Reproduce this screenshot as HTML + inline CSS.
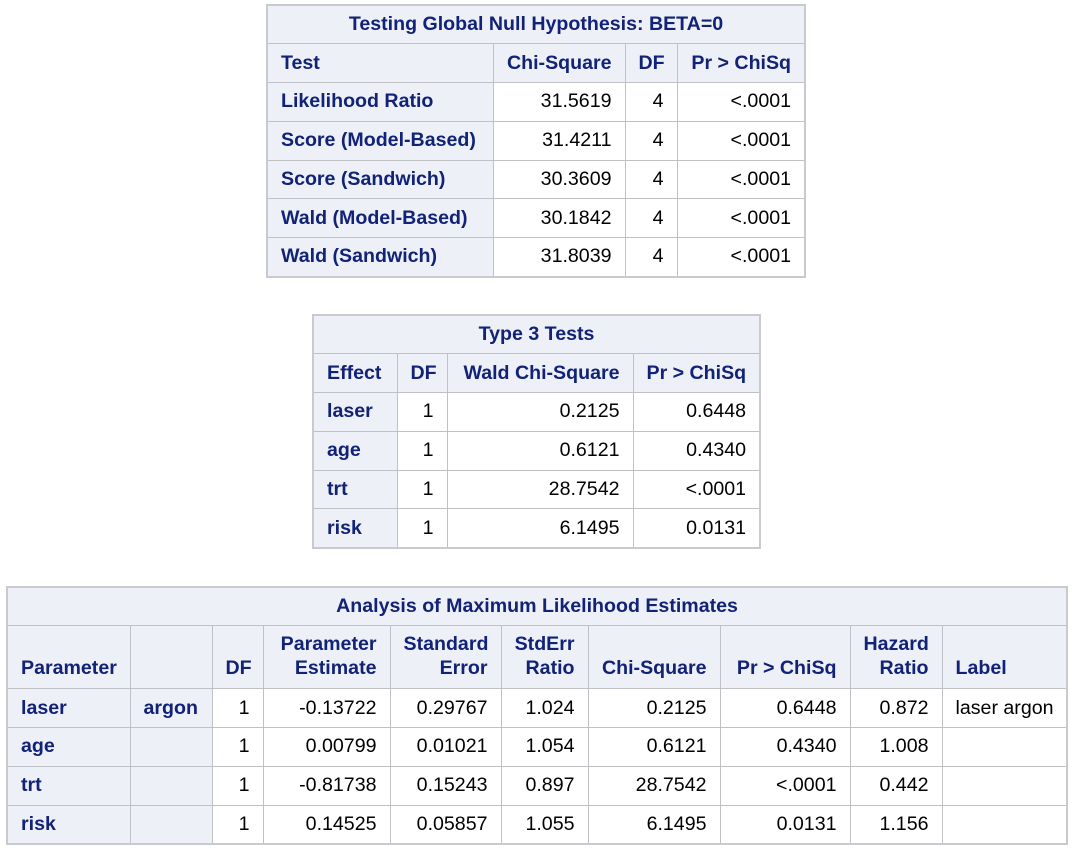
<!DOCTYPE html>
<html><head><meta charset="utf-8">
<style>
html,body{margin:0;padding:0;background:#fff;width:1072px;height:848px;overflow:hidden}
table{position:absolute;border-collapse:collapse;table-layout:fixed;font-family:"Liberation Sans",Arial,sans-serif;font-size:19.6px;border:2px solid #c8cacd}
td,th{border:1px solid #bfc1c4;padding:0 13px;white-space:nowrap;overflow:hidden}
th{background:#edf0f7;color:#112277;font-weight:bold;text-align:left}
th.r{text-align:right}
th.c{text-align:center}
td{color:#000;text-align:right;background:#fff}
td.l{text-align:left}
tr{height:38.8px}
</style></head><body>

<table style="left:266px;top:4px;width:538px">
<colgroup><col style="width:226px"><col style="width:132px"><col style="width:52px"><col style="width:128px"></colgroup>
<tr><th colspan="4" class="c" style="height:36px">Testing Global Null Hypothesis: BETA=0</th></tr>
<tr><th>Test</th><th class="r">Chi-Square</th><th class="r">DF</th><th class="r">Pr &gt; ChiSq</th></tr>
<tr><th>Likelihood Ratio</th><td>31.5619</td><td>4</td><td>&lt;.0001</td></tr>
<tr><th>Score (Model-Based)</th><td>31.4211</td><td>4</td><td>&lt;.0001</td></tr>
<tr><th>Score (Sandwich)</th><td>30.3609</td><td>4</td><td>&lt;.0001</td></tr>
<tr><th>Wald (Model-Based)</th><td>30.1842</td><td>4</td><td>&lt;.0001</td></tr>
<tr><th>Wald (Sandwich)</th><td>31.8039</td><td>4</td><td>&lt;.0001</td></tr>
</table>

<table style="left:312px;top:314px;width:447px">
<colgroup><col style="width:84px"><col style="width:50px"><col style="width:186px"><col style="width:127px"></colgroup>
<tr><th colspan="4" class="c" style="height:36px">Type 3 Tests</th></tr>
<tr><th>Effect</th><th class="r">DF</th><th class="r">Wald Chi-Square</th><th class="r">Pr &gt; ChiSq</th></tr>
<tr><th>laser</th><td>1</td><td>0.2125</td><td>0.6448</td></tr>
<tr><th>age</th><td>1</td><td>0.6121</td><td>0.4340</td></tr>
<tr><th>trt</th><td>1</td><td>28.7542</td><td>&lt;.0001</td></tr>
<tr><th>risk</th><td>1</td><td>6.1495</td><td>0.0131</td></tr>
</table>

<table style="left:6px;top:586px;width:1060px">
<colgroup><col style="width:123px"><col style="width:82px"><col style="width:51px"><col style="width:127px"><col style="width:111px"><col style="width:87px"><col style="width:132px"><col style="width:130px"><col style="width:92px"><col style="width:125px"></colgroup>
<tr><th colspan="10" class="c" style="height:36px">Analysis of Maximum Likelihood Estimates</th></tr>
<tr style="height:63px"><th style="vertical-align:bottom;padding-bottom:8px">Parameter</th><th></th><th class="r" style="vertical-align:bottom;padding-bottom:8px">DF</th><th class="r" style="vertical-align:bottom;padding-bottom:8px;line-height:24px">Parameter<br>Estimate</th><th class="r" style="vertical-align:bottom;padding-bottom:8px;line-height:24px">Standard<br>Error</th><th class="r" style="vertical-align:bottom;padding-bottom:8px;line-height:24px">StdErr<br>Ratio</th><th class="r" style="vertical-align:bottom;padding-bottom:8px">Chi-Square</th><th class="r" style="vertical-align:bottom;padding-bottom:8px">Pr &gt; ChiSq</th><th class="r" style="vertical-align:bottom;padding-bottom:8px;line-height:24px">Hazard<br>Ratio</th><th style="vertical-align:bottom;padding-bottom:8px">Label</th></tr>
<tr><th>laser</th><th>argon</th><td>1</td><td>-0.13722</td><td>0.29767</td><td>1.024</td><td>0.2125</td><td>0.6448</td><td>0.872</td><td class="l">laser argon</td></tr>
<tr><th>age</th><th></th><td>1</td><td>0.00799</td><td>0.01021</td><td>1.054</td><td>0.6121</td><td>0.4340</td><td>1.008</td><td class="l"></td></tr>
<tr><th>trt</th><th></th><td>1</td><td>-0.81738</td><td>0.15243</td><td>0.897</td><td>28.7542</td><td>&lt;.0001</td><td>0.442</td><td class="l"></td></tr>
<tr><th>risk</th><th></th><td>1</td><td>0.14525</td><td>0.05857</td><td>1.055</td><td>6.1495</td><td>0.0131</td><td>1.156</td><td class="l"></td></tr>
</table>

</body></html>
